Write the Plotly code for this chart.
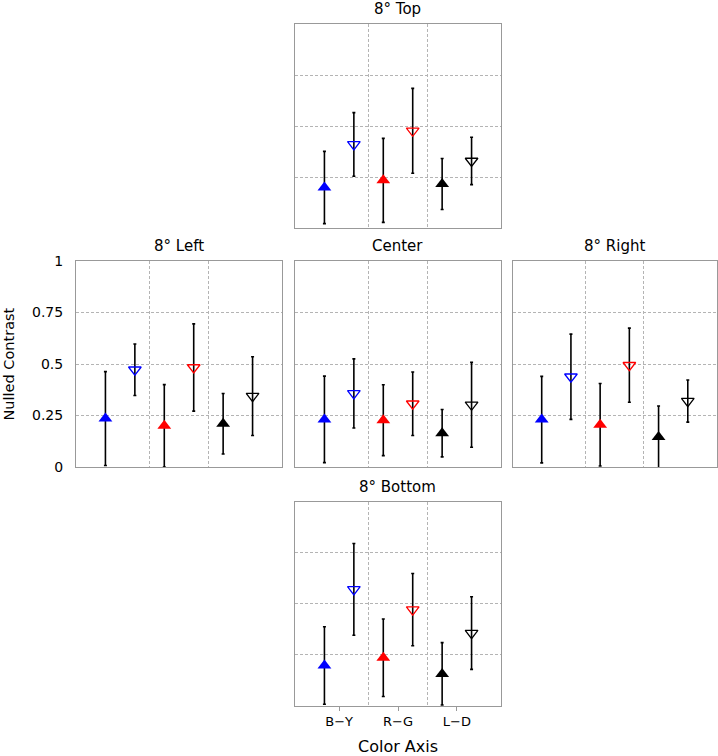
import plotly.graph_objects as go

W, H = 718, 756

panel_titles = ["8° Top", "8° Left", "Center", "8° Right", "8° Bottom"]
categories = ["B\u2212Y", "R\u2212G", "L\u2212D"]
cat_colors = ["#0000ff", "#ff0000", "#000000"]

top_filled = [0.200, 0.235, 0.217]
top_filled_err = [0.177, 0.206, 0.125]
top_open = [0.411, 0.478, 0.330]
top_open_err = [0.156, 0.208, 0.116]

left_filled = [0.235, 0.200, 0.210]
left_filled_err = [0.228, 0.200, 0.147]
left_open = [0.472, 0.483, 0.344]
left_open_err = [0.125, 0.212, 0.191]

center_filled = [0.231, 0.227, 0.164]
center_filled_err = [0.210, 0.172, 0.115]
center_open = [0.357, 0.307, 0.302]
center_open_err = [0.168, 0.154, 0.206]

right_filled = [0.230, 0.205, 0.146]
right_filled_err = [0.210, 0.200, 0.150]
right_open = [0.438, 0.494, 0.320]
right_open_err = [0.207, 0.180, 0.102]

bottom_filled = [0.197, 0.235, 0.156]
bottom_filled_err = [0.190, 0.190, 0.153]
bottom_open = [0.570, 0.471, 0.356]
bottom_open_err = [0.225, 0.177, 0.178]

y_ticks = [0, 0.25, 0.5, 0.75, 1]
y_ticktext = ["0", "0.25", "0.5", "0.75", "1"]

panel_data = [
    (top_filled, top_filled_err, top_open, top_open_err),
    (left_filled, left_filled_err, left_open, left_open_err),
    (center_filled, center_filled_err, center_open, center_open_err),
    (right_filled, right_filled_err, right_open, right_open_err),
    (bottom_filled, bottom_filled_err, bottom_open, bottom_open_err),
]

boxes = [
    (295, 501, 24.3, 228.3),
    (76, 282, 261, 467),
    (295, 501, 261, 467),
    (512.5, 717, 261, 467),
    (295, 501, 501.7, 705.7),
]

FONT = "DejaVu Sans"
GRID = "#b4b4b4"
LINE = "#999999"

fig = go.Figure()
layout = dict(
    width=W, height=H, margin=dict(l=0, r=0, t=0, b=0, pad=0, autoexpand=False),
    paper_bgcolor="white", plot_bgcolor="white", showlegend=False,
    font=dict(family=FONT, color="black"),
)
annotations = []
pos = [1, 2, 3]
offset = 0.25

for i, (title, (f, fe, o, oe), box) in enumerate(zip(panel_titles, panel_data, boxes)):
    n = i + 1
    xa = "x" if n == 1 else f"x{n}"
    ya = "y" if n == 1 else f"y{n}"
    l, r, t, b = box
    xdom = [l / W, r / W]
    ydom = [1 - b / H, 1 - t / H]
    is_left = (i == 1)
    is_bottom = (i == 4)

    fig.add_trace(go.Scatter(
        x=[p - offset for p in pos], y=f, mode="markers", xaxis=xa, yaxis=ya,
        error_y=dict(type="data", array=fe, color="black", thickness=1.6, width=1.5),
        marker=dict(symbol="triangle-up", size=12, color=cat_colors, line=dict(width=0)),
        cliponaxis=True,
    ))
    fig.add_trace(go.Scatter(
        x=[p + offset for p in pos], y=o, mode="markers", xaxis=xa, yaxis=ya,
        error_y=dict(type="data", array=oe, color="black", thickness=1.6, width=1.5),
        marker=dict(symbol="triangle-down-open", size=11, color=cat_colors,
                    line=dict(width=1.3, color=cat_colors)),
        cliponaxis=True,
    ))

    xkey = "xaxis" if n == 1 else f"xaxis{n}"
    ykey = "yaxis" if n == 1 else f"yaxis{n}"
    layout[xkey] = dict(
        domain=xdom, anchor=ya, range=[0.25, 3.75], fixedrange=True,
        showline=True, mirror=True, linecolor=LINE, linewidth=1,
        showgrid=False, zeroline=False, automargin=False,
        tickvals=pos, ticktext=categories,
        showticklabels=is_bottom,
        ticks="outside" if is_bottom else "", ticklen=4, tickcolor=LINE,
        tickfont=dict(size=13, family=FONT),
        minor=dict(tickvals=[1.5, 2.5], showgrid=True, gridcolor=GRID,
                   griddash="3px,2px", gridwidth=1, ticks=""),
    )
    layout[ykey] = dict(
        domain=ydom, anchor=xa, range=[0, 1], fixedrange=True,
        showline=True, mirror=True, linecolor=LINE, linewidth=1,
        showgrid=True, gridcolor=GRID, griddash="3px,2px", gridwidth=1,
        zeroline=False, automargin=False, tickvals=y_ticks, ticktext=y_ticktext,
        showticklabels=is_left, ticks="", ticklabelstandoff=9,
        tickfont=dict(size=14, family=FONT),
    )
    annotations.append(dict(
        text=title, xref="paper", yref="paper", x=(l + r) / 2 / W,
        y=1 - (t - 15) / H, xanchor="center", yanchor="middle",
        showarrow=False, font=dict(size=15, family=FONT, color="black"),
    ))

annotations.append(dict(
    text="Nulled Contrast", xref="paper", yref="paper", x=8.5 / W, y=1 - 364 / H,
    xanchor="center", yanchor="middle", textangle=-90, showarrow=False,
    font=dict(size=14.5, family=FONT, color="black"),
))
annotations.append(dict(
    text="Color Axis", xref="paper", yref="paper", x=398 / W, y=1 - 746 / H,
    xanchor="center", yanchor="middle", showarrow=False,
    font=dict(size=16, family=FONT, color="black"),
))
layout["annotations"] = annotations
fig.update_layout(**layout)
fig.write_html(
    "out.html",
    config={"displayModeBar": False},
    post_script="document.body.style.margin='0';document.body.style.overflow='hidden';",
)
